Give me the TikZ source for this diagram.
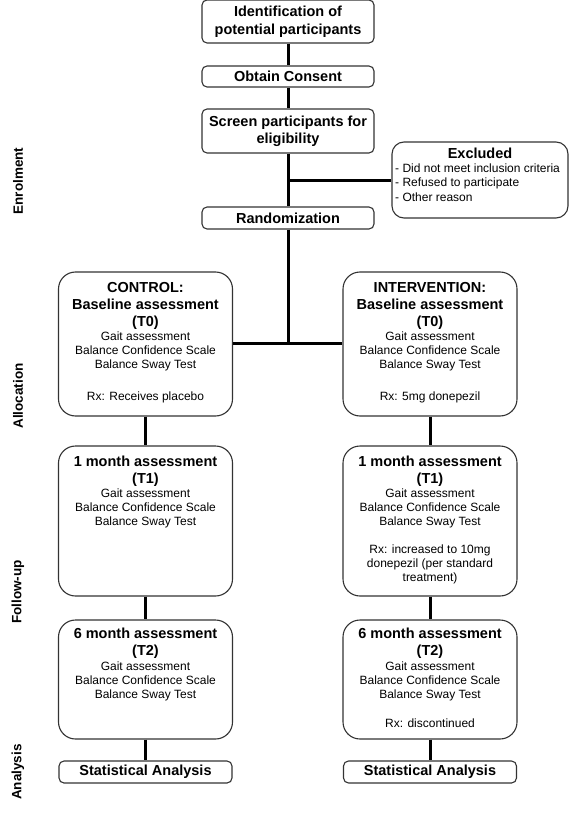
\documentclass[tikz,border=0pt]{standalone}
\usepackage{fontspec}
\setmainfont{Liberation Sans}
\newcommand\hdf{\fontsize{14.5}{17}\selectfont\bfseries}
\newcommand\bdf{\fontsize{12}{14}\selectfont}
\newcommand\exf{\fontsize{12}{14.5}\selectfont}
\newcommand\lbf{\fontsize{13.5}{16}\selectfont\bfseries}
\begin{document}
\begin{tikzpicture}[x=1pt,y=1pt,
  box/.style={draw=black!80,line width=1.1pt,fill=white,inner sep=0pt},
  rbox/.style={box,rounded corners=17pt,minimum width=174pt},
  sbox/.style={box,rounded corners=5pt,minimum width=172pt,align=center,font=\hdf},
  conn/.style={line width=3pt,black},
  hdtext/.style={align=center,inner sep=0pt,anchor=north,font=\hdf},
  bdtext/.style={align=center,inner sep=0pt,anchor=north,font=\bdf},
  side/.style={rotate=90,font=\lbf,inner sep=0pt}]
\useasboundingbox (0,0) rectangle (577,-818);
\fill[white] (0,0) rectangle (577,-818);

% enrolment
\node[sbox,minimum height=43pt] (id) at (288,-21.5) {Identification of\\[1pt]potential participants};
\node[sbox,minimum height=21pt] (cons) at (288,-76.5) {Obtain Consent};
\node[sbox,minimum height=44pt] (scr) at (288,-131) {Screen participants for\\eligibility};
\node[sbox,minimum height=22pt] (rand) at (288,-218) {Randomization};
\node[box,rounded corners=12pt,minimum width=176pt,minimum height=76pt] (exc) at (480,-180) {};
\node[hdtext] (exh) at (480,-147.8) {Excluded};
\node[anchor=north west,align=left,inner sep=0pt,font=\exf] (exb) at (395,-163.5)
  {- Did not meet inclusion criteria\\- Refused to participate\\- Other reason};

% allocation
\node[rbox,minimum height=144pt] (ctrl) at (145.5,-344) {};
\node[hdtext] (ctrlh) at (145.5,-281.8) {CONTROL:\\Baseline assessment\\(T0)};
\node[bdtext] (ctrlb) at (145.5,-331.7) {Gait assessment\\Balance Confidence Scale\\Balance Sway Test};
\node[bdtext] (ctrlrx) at (145.5,-391.7) {Rx: Receives placebo};

\node[rbox,minimum height=144pt] (intv) at (430,-344) {};
\node[hdtext] (intvh) at (430,-281.8) {INTERVENTION:\\Baseline assessment\\(T0)};
\node[bdtext] (intvb) at (430,-331.7) {Gait assessment\\Balance Confidence Scale\\Balance Sway Test};
\node[bdtext] (intvrx) at (430,-391.7) {Rx: 5mg donepezil};

% follow-up
\node[rbox,minimum height=150pt] (ctrlA) at (145.5,-521) {};
\node[hdtext] (ctrlAh) at (145.5,-455.8) {1 month assessment\\(T1)};
\node[bdtext] (ctrlAb) at (145.5,-488.7) {Gait assessment\\Balance Confidence Scale\\Balance Sway Test};

\node[rbox,minimum height=150pt] (intvA) at (430,-521) {};
\node[hdtext] (intvAh) at (430,-455.8) {1 month assessment\\(T1)};
\node[bdtext] (intvAb) at (430,-488.7) {Gait assessment\\Balance Confidence Scale\\Balance Sway Test};
\node[bdtext] (intvArx) at (430,-544.7) {Rx: increased to 10mg\\donepezil (per standard\\treatment)};

\node[rbox,minimum height=119pt] (ctrlB) at (145.5,-679.5) {};
\node[hdtext] (ctrlBh) at (145.5,-627.8) {6 month assessment\\(T2)};
\node[bdtext] (ctrlBb) at (145.5,-661.7) {Gait assessment\\Balance Confidence Scale\\Balance Sway Test};

\node[rbox,minimum height=119pt] (intvB) at (430,-679.5) {};
\node[hdtext] (intvBh) at (430,-627.8) {6 month assessment\\(T2)};
\node[bdtext] (intvBb) at (430,-661.7) {Gait assessment\\Balance Confidence Scale\\Balance Sway Test};
\node[bdtext] (intvBrx) at (430,-718.7) {Rx: discontinued};

% analysis
\node[sbox,minimum width=173pt,minimum height=22pt] (ctrlS) at (145.5,-772) {Statistical Analysis};
\node[sbox,minimum width=173pt,minimum height=22pt] (intvS) at (430,-772) {Statistical Analysis};

% connectors
\draw[conn] (id) -- (cons);
\draw[conn] (cons) -- (scr);
\draw[conn] (scr) -- (rand);
\coordinate (br) at (288,-181);
\draw[conn] (br) -- (exc.west |- br);
\coordinate (split) at (288,-343);
\draw[conn] (rand) -- (split);
\draw[conn] (ctrl.east |- split) -- (intv.west |- split);
\draw[conn] (ctrl) -- (ctrlA);
\draw[conn] (ctrlA) -- (ctrlB);
\draw[conn] (ctrlB) -- (ctrlS);
\draw[conn] (intv) -- (intvA);
\draw[conn] (intvA) -- (intvB);
\draw[conn] (intvB) -- (intvS);

% side labels
\node[side] (lenr) at (18,-181) {Enrolment};
\node[side] (lall) at (18,-396) {Allocation};
\node[side] (lfol) at (18,-592) {Follow-up};
\node[side] (lana) at (18,-772) {Analysis};
\end{tikzpicture}
\end{document}
